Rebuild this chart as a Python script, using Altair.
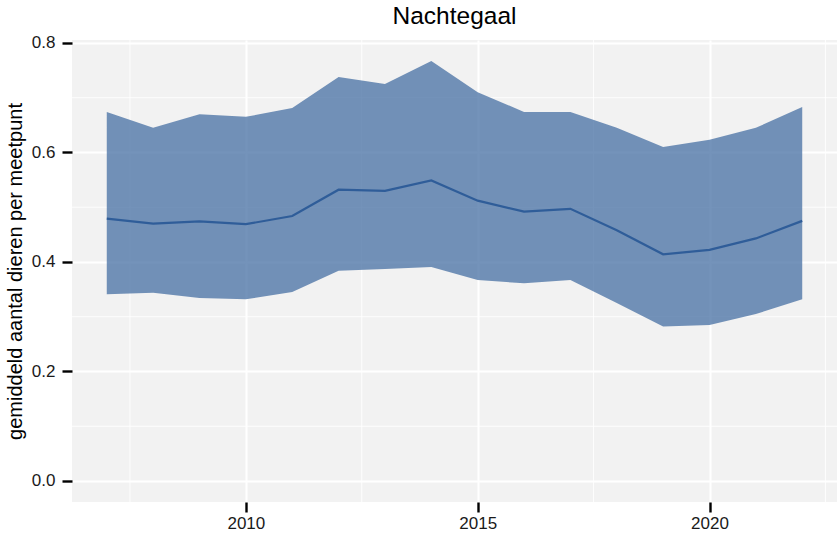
import altair as alt
import pandas as pd

# Nachtegaal: mean number of birds per survey point, with uncertainty band
years = list(range(2007, 2023))
mean_count = [0.479, 0.470, 0.474, 0.469, 0.484, 0.532, 0.530, 0.549,
              0.512, 0.492, 0.497, 0.458, 0.414, 0.422, 0.443, 0.475]
lower_bound = [0.341, 0.344, 0.334, 0.332, 0.345, 0.384, 0.387, 0.391,
               0.367, 0.361, 0.367, 0.325, 0.282, 0.285, 0.305, 0.332]
upper_bound = [0.674, 0.645, 0.670, 0.665, 0.681, 0.738, 0.725, 0.767,
               0.710, 0.674, 0.674, 0.645, 0.610, 0.623, 0.645, 0.683]

x_ticks = [2010, 2015, 2020]
x_minor = [2007.5, 2012.5, 2017.5, 2022.5]
y_ticks = [0.0, 0.2, 0.4, 0.6, 0.8]
y_minor = [0.1, 0.3, 0.5, 0.7]

df = pd.DataFrame({"jaar": years, "gemiddelde": mean_count,
                   "laag": lower_bound, "hoog": upper_bound})
df_xminor = pd.DataFrame({"jaar": x_minor})
df_yminor = pd.DataFrame({"gemiddelde": y_minor})

FONT = "Liberation Sans"
x_scale = alt.Scale(domain=[2006.25, 2022.75], nice=False, zero=False)
y_scale = alt.Scale(domain=[-0.0384, 0.8054], nice=False, zero=False)

x_axis = alt.Axis(values=x_ticks, format="d", grid=True, gridColor="white",
                  gridWidth=2, domain=False, tickColor="black", tickWidth=2.4,
                  tickSize=10, labelFontSize=17, labelFont=FONT,
                  labelColor="#1a1a1a", labelPadding=3, title=None)
y_axis = alt.Axis(values=y_ticks, format=".1f", grid=True, gridColor="white",
                  gridWidth=2, domain=False, tickColor="black", tickWidth=2.4,
                  tickSize=10, labelFontSize=17, labelFont=FONT,
                  labelColor="#1a1a1a", labelPadding=7,
                  title="gemiddeld aantal dieren per meetpunt",
                  titleFont=FONT, titleFontSize=20, titleFontWeight="normal",
                  titleColor="black", titlePadding=6)

X = lambda f: alt.X(f, type="quantitative", scale=x_scale, axis=x_axis)
Y = lambda f: alt.Y(f, type="quantitative", scale=y_scale, axis=y_axis)

# thin minor grid lines between the major ones
minor_x = alt.Chart(df_xminor).mark_rule(color="white", strokeWidth=0.9).encode(x=X("jaar"))
minor_y = alt.Chart(df_yminor).mark_rule(color="white", strokeWidth=0.9).encode(y=Y("gemiddelde"))

band = alt.Chart(df).mark_area(color="#3E6A9F", opacity=0.72).encode(
    x=X("jaar"), y=Y("laag"), y2="hoog:Q"
)

line = alt.Chart(df).mark_line(color="#2F5D99", strokeWidth=2.2).encode(
    x=X("jaar"), y=Y("gemiddelde")
)

chart = (
    alt.layer(minor_x, minor_y, band, line)
    .properties(
        width=765, height=462,
        view=alt.ViewBackground(fill="#F2F2F2", strokeWidth=0),
        title=alt.TitleParams("Nachtegaal", font=FONT, fontSize=24.5,
                              fontWeight="normal", color="black", anchor="middle",
                              offset=4),
        autosize=alt.AutoSizeParams(type="none"),
        padding={"left": 72, "top": 40, "right": 0, "bottom": 39},
    )
    .configure_view(fill="#F2F2F2", strokeWidth=0)
    .configure(background="white")
)

chart.save("out.html", embed_options={"renderer": "svg", "actions": False})
